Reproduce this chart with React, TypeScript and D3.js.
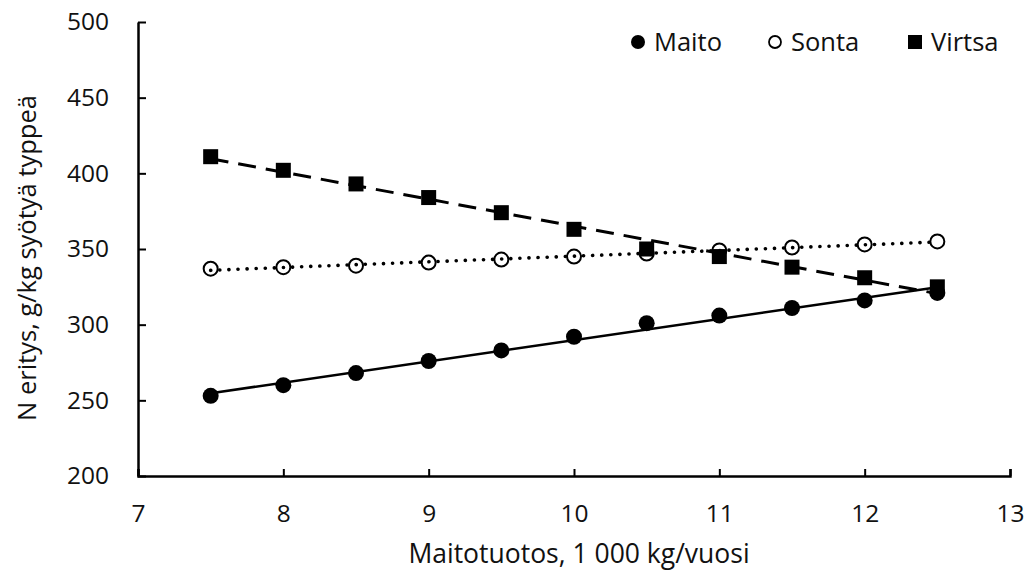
import { useEffect, useRef } from 'react'
import * as d3 from 'd3'

const milkYield = [7.5, 8, 8.5, 9, 9.5, 10, 10.5, 11, 11.5, 12, 12.5]
const maito = [253, 260, 268, 276, 283, 292, 301, 306, 311, 316, 321]
const sonta = [337, 338, 339, 341, 343, 345, 347, 349, 351, 353, 355]
const virtsa = [411, 402, 393, 384, 374, 363, 350, 345, 338, 331, 325]
const xTicks = [7, 8, 9, 10, 11, 12, 13]
const yTicks = [200, 250, 300, 350, 400, 450, 500]

const FONT = '"Open Sans", Lato, sans-serif'
const INK = '#111'

// least-squares trend line like the one Excel draws
const trend = (ys: number[]) => {
  const mx = d3.mean(milkYield) as number
  const my = d3.mean(ys) as number
  let num = 0
  let den = 0
  milkYield.forEach((x, i) => {
    num += (x - mx) * (ys[i] - my)
    den += (x - mx) * (x - mx)
  })
  const b = num / den
  const a = my - b * mx
  const x0 = milkYield[0]
  const x1 = milkYield[milkYield.length - 1]
  return [
    [x0, a + b * x0],
    [x1, a + b * x1],
  ] as [number, number][]
}

export default function App() {
  const rootRef = useRef<SVGSVGElement>(null)

  useEffect(() => {
    const svg = d3.select(rootRef.current)
    svg.selectAll('*').remove()

    const margin = { top: 22, right: 15, bottom: 100, left: 138 },
      width = 1025 - margin.left - margin.right,
      height = 576 - margin.top - margin.bottom

    const x = d3.scaleLinear().domain([7, 13]).range([0, width])
    const y = d3.scaleLinear().domain([200, 500]).range([height, 0])

    const g = svg.append('g').attr('transform', 'translate(' + margin.left + ',' + margin.top + ')')

    // axes
    const ax = g
      .append('g')
      .attr('transform', 'translate(0,' + height + ')')
      .call(
        d3
          .axisBottom(x)
          .tickValues(xTicks)
          .tickFormat(d3.format('d'))
          .tickSizeInner(-7)
          .tickSizeOuter(-7)
          .tickPadding(29)
      )
    const ay = g
      .append('g')
      .call(d3.axisLeft(y).tickValues(yTicks).tickSizeInner(-8).tickSizeOuter(0).tickPadding(29))
    ;[ax, ay].forEach((a) => {
      a.select('.domain').attr('stroke', '#000').attr('stroke-width', 2.5)
      a.selectAll('.tick line').attr('stroke', '#000').attr('stroke-width', 2)
      a.selectAll('.tick text').attr('font-family', FONT).attr('font-size', 24.5).attr('fill', INK)
    })

    const pts = (ys: number[]) => milkYield.map((v, i) => [v, ys[i]] as [number, number])

    // markers
    g.append('g')
      .selectAll('circle')
      .data(pts(maito))
      .join('circle')
      .attr('cx', (d) => x(d[0]))
      .attr('cy', (d) => y(d[1]))
      .attr('r', 8)
      .attr('fill', '#000')

    g.append('g')
      .selectAll('circle')
      .data(pts(sonta))
      .join('circle')
      .attr('cx', (d) => x(d[0]))
      .attr('cy', (d) => y(d[1]))
      .attr('r', 7)
      .attr('fill', '#fff')
      .attr('stroke', '#000')
      .attr('stroke-width', 2)

    g.append('g')
      .selectAll('rect')
      .data(pts(virtsa))
      .join('rect')
      .attr('x', (d) => x(d[0]) - 7.5)
      .attr('y', (d) => y(d[1]) - 7.5)
      .attr('width', 15)
      .attr('height', 15)
      .attr('fill', '#000')

    // trend lines on top of markers
    const line = d3
      .line<[number, number]>()
      .x((d) => x(d[0]))
      .y((d) => y(d[1]))

    g.append('path')
      .attr('d', line(trend(maito)))
      .attr('fill', 'none')
      .attr('stroke', '#000')
      .attr('stroke-width', 2.5)
    g.append('path')
      .attr('d', line(trend(sonta)))
      .attr('fill', 'none')
      .attr('stroke', '#000')
      .attr('stroke-width', 3.6)
      .attr('stroke-linecap', 'round')
      .attr('stroke-dasharray', '0.1 9')
    g.append('path')
      .attr('d', line(trend(virtsa)))
      .attr('fill', 'none')
      .attr('stroke', '#000')
      .attr('stroke-width', 3)
      .attr('stroke-dasharray', '18 10')

    // legend
    const legend = svg.append('g').attr('font-family', FONT).attr('font-size', 25.5).attr('fill', INK)
    const items = [
      { name: 'Maito', x: 638, kind: 'dot' },
      { name: 'Sonta', x: 775, kind: 'ring' },
      { name: 'Virtsa', x: 915, kind: 'square' },
    ]
    items.forEach((it) => {
      if (it.kind === 'dot') {
        legend.append('circle').attr('cx', it.x).attr('cy', 42).attr('r', 7).attr('fill', '#000')
      } else if (it.kind === 'ring') {
        legend
          .append('circle')
          .attr('cx', it.x)
          .attr('cy', 42)
          .attr('r', 6)
          .attr('fill', '#fff')
          .attr('stroke', '#000')
          .attr('stroke-width', 1.8)
      } else {
        legend.append('rect').attr('x', it.x - 7).attr('y', 35).attr('width', 14).attr('height', 14).attr('fill', '#000')
      }
      legend
        .append('text')
        .attr('x', it.x + 16)
        .attr('y', 42)
        .attr('dy', '0.36em')
        .text(it.name)
    })

    // axis titles
    svg
      .append('text')
      .attr('x', 579)
      .attr('y', 563)
      .attr('text-anchor', 'middle')
      .attr('font-family', FONT)
      .attr('font-size', 26.5)
      .attr('fill', INK)
      .text('Maitotuotos, 1 000 kg/vuosi')

    svg
      .append('text')
      .attr('transform', 'translate(36,' + 258 + ') rotate(-90)')
      .attr('text-anchor', 'middle')
      .attr('font-family', FONT)
      .attr('font-size', 25.5)
      .attr('fill', INK)
      .text('N eritys, g/kg syötyä typpeä')
  }, [])

  return <svg ref={rootRef} width={1025} height={576} style={{ position: 'absolute', left: 0, top: 0 }} />
}
